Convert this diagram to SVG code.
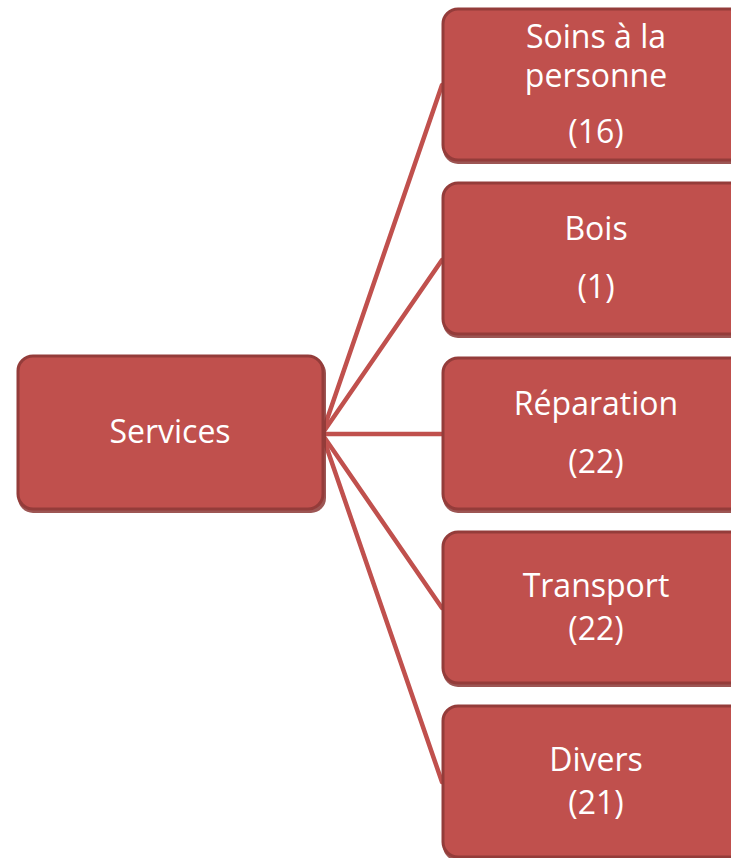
<svg xmlns="http://www.w3.org/2000/svg" width="731" height="858" viewBox="0 0 731 858">
<style>
.sh{fill:#8c3836;opacity:0.85}
.bx{fill:#c0504d;stroke:#943c3a;stroke-width:3}
.t{font-family:"Open Sans","Liberation Sans",sans-serif;font-size:32px;fill:#ffffff;text-anchor:middle}
.c{stroke:#c0504d;stroke-width:4.5;fill:none;stroke-linecap:round}
</style>
<rect width="731" height="858" fill="#ffffff"/>
<g id="connectors">
<line class="c" x1="322" y1="434" x2="442" y2="85"/>
<line class="c" x1="322" y1="434" x2="442" y2="260"/>
<line class="c" x1="322" y1="434" x2="442" y2="434"/>
<line class="c" x1="322" y1="434" x2="442" y2="608"/>
<line class="c" x1="322" y1="434" x2="442" y2="782"/>
</g>
<g id="services">
<rect class="sh" x="18" y="358" width="308" height="155" rx="15"/>
<rect class="bx" x="18" y="356" width="305" height="153" rx="15"/>
<text class="t" x="170" y="443">Services</text>
</g>
<g id="soins">
<rect class="sh" x="443" y="11" width="320" height="153" rx="15"/>
<rect class="bx" x="443" y="9" width="320" height="151" rx="15"/>
<text class="t" x="596" y="48">Soins à la</text>
<text class="t" x="596" y="87">personne</text>
<text class="t" x="596" y="143">(16)</text>
</g>
<g id="bois">
<rect class="sh" x="443" y="185" width="320" height="153" rx="15"/>
<rect class="bx" x="443" y="183" width="320" height="151" rx="15"/>
<text class="t" x="596" y="240">Bois</text>
<text class="t" x="596" y="298">(1)</text>
</g>
<g id="reparation">
<rect class="sh" x="443" y="360" width="320" height="153" rx="15"/>
<rect class="bx" x="443" y="358" width="320" height="151" rx="15"/>
<text class="t" x="596" y="415">Réparation</text>
<text class="t" x="596" y="473">(22)</text>
</g>
<g id="transport">
<rect class="sh" x="443" y="534" width="320" height="153" rx="15"/>
<rect class="bx" x="443" y="532" width="320" height="151" rx="15"/>
<text class="t" x="596" y="597">Transport</text>
<text class="t" x="596" y="640">(22)</text>
</g>
<g id="divers">
<rect class="sh" x="443" y="708" width="320" height="153" rx="15"/>
<rect class="bx" x="443" y="706" width="320" height="151" rx="15"/>
<text class="t" x="596" y="771">Divers</text>
<text class="t" x="596" y="814">(21)</text>
</g>
</svg>
